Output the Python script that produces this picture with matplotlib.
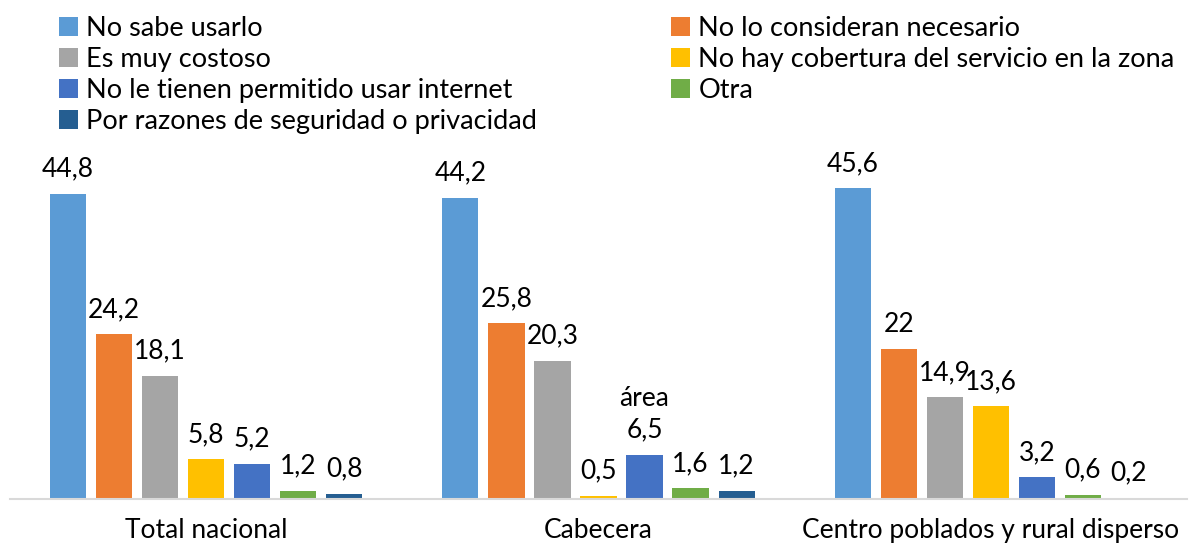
import matplotlib
matplotlib.use("Agg")
import matplotlib.pyplot as plt
import numpy as np

plt.rcParams['font.family'] = ['Lato', 'DejaVu Sans']

groups = ["Total nacional", "Cabecera", "Centro poblados y rural disperso"]
series = ["No sabe usarlo", "No lo consideran necesario", "Es muy costoso",
          "No hay cobertura del servicio en la zona",
          "No le tienen permitido usar internet", "Otra",
          "Por razones de seguridad o privacidad"]
colors = ["#5B9BD5", "#ED7D31", "#A5A5A5", "#FFC000", "#4472C4", "#70AD47", "#255E91"]

no_sabe = [44.8, 44.2, 45.6]
no_necesario = [24.2, 25.8, 22]
costoso = [18.1, 20.3, 14.9]
cobertura = [5.8, 0.5, 13.6]
permitido = [5.2, 6.5, 3.2]
otra = [1.2, 1.6, 0.6]
seguridad = [0.8, 1.2, 0.2]
values = [no_sabe, no_necesario, costoso, cobertura, permitido, otra, seguridad]

W, H = 1197, 550
fig = plt.figure(figsize=(W / 100, H / 100), dpi=100)
ax = fig.add_axes([10 / W, 1 - 499 / H, 1177 / W, 359 / H])

x = np.arange(len(groups))
step = 0.1173
width = 0.092
for i, (name, vals, c) in enumerate(zip(series, values, colors)):
    pos = x + (i - 3) * step
    ax.bar(pos, vals, width, color=c, label=name)
    for px, v in zip(pos, vals):
        ax.text(px, v + 1.8, f"{v:g}".replace(".", ","), ha="center", va="bottom",
                fontsize=19, color="#000000")

# texto suelto que aparece en el original
ax.text(x[1] + 1 * step, 6.5 + 1.8 + 4.6, "área", ha="center", va="bottom",
        fontsize=19, color="#000000")

ax.set_xlim(-0.5, 2.5)
ax.set_ylim(0, 52.7)
ax.set_yticks([])
ax.set_xticks(x)
ax.set_xticklabels(groups, fontsize=19)
ax.tick_params(axis="x", length=0, pad=14)
for s in ["top", "left", "right"]:
    ax.spines[s].set_visible(False)
ax.spines["bottom"].set_color("#D9D9D9")
ax.spines["bottom"].set_linewidth(1.5)

# orden por filas como en el original
handles, labels = ax.get_legend_handles_labels()
order = [0, 2, 4, 6, 1, 3, 5]
fig.legend([handles[k] for k in order], [labels[k] for k in order],
           loc="upper left", bbox_to_anchor=(43 / W, 1.0), ncol=2, frameon=False,
           fontsize=19.5, handlelength=0.7, handleheight=0.7, handletextpad=0.3,
           columnspacing=4.95, labelspacing=0.22, borderaxespad=0.2)

fig.savefig("out.png", dpi=100)
